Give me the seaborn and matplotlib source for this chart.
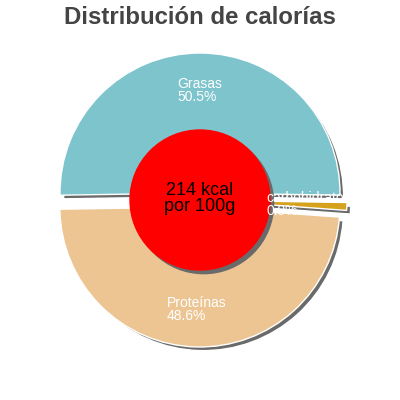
import numpy as np
import matplotlib
matplotlib.use("Agg")
import matplotlib.pyplot as plt
import seaborn as sns
from matplotlib.patches import Circle

# data
labels = ["Grasas", "carbohidratos", "Proteínas"]
shares = [50.5, 0.9, 48.6]
colors = ["#7ec4cd", "#d6a11c", "#edc592"]
kcal_text = "214 kcal\npor 100g"
title = "Distribución de calorías"

sns.set_style("white")
plt.rcParams["font.family"] = ["Liberation Sans", "DejaVu Sans"]

fig = plt.figure(figsize=(4, 4), dpi=100)
ax = fig.add_axes([0, 0, 1, 1])

explode = [0.05] * len(shares)
start = 90 + shares[0] * 3.6 / 2
shadow = "#6a6a6a"
off = 0.026

# shadow pie first, shifted down-right
ax.pie(shares, explode=explode, colors=[shadow] * 3, startangle=start,
       counterclock=False, radius=1, center=(off, -off), frame=True)
wedges, _ = ax.pie(shares, explode=explode, colors=colors, startangle=start,
                   counterclock=False, radius=1, center=(0, 0), frame=True)
lim = 200 / 140
ax.set_aspect("equal")
ax.set_xlim(-lim, lim)
ax.set_ylim(-lim, lim)
ax.axis("off")

# labels inside each slice, drawn on top of everything
for w, lab, val in zip(wedges, labels, shares):
    mid = np.deg2rad((w.theta1 + w.theta2) / 2)
    cx, cy = w.center
    r = 0.73
    ax.text(cx + r * np.cos(mid), cy + r * np.sin(mid), f"{lab}\n{val}%",
            color="white", fontsize=10, ha="center", va="center",
            multialignment="left", linespacing=0.9, zorder=6)

# red centre disc with its shadow
ax.add_patch(Circle((off, -off), 0.5, color=shadow, zorder=3))
ax.add_patch(Circle((0, 0), 0.5, color="#ff0000", zorder=4))
ax.text(0, 0.01, kcal_text, ha="center", va="center", fontsize=13,
        color="black", zorder=5, linespacing=0.95)

fig.text(0.5, 0.955, title, ha="center", va="center", fontsize=17.3,
         fontweight="bold", color="#444444")

fig.savefig("out.png", dpi=100)
